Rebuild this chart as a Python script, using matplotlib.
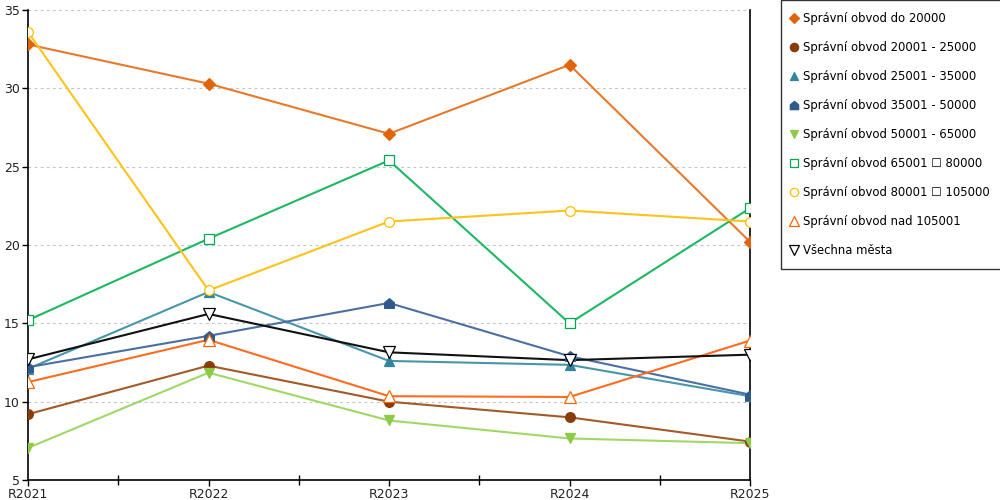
import matplotlib
matplotlib.use("Agg")
import matplotlib.pyplot as plt
from matplotlib.lines import Line2D
from matplotlib.path import Path
from matplotlib.ticker import MultipleLocator

years = ["R2021", "R2022", "R2023", "R2024", "R2025"]

names = [
    "Správní obvod do 20000",
    "Správní obvod 20001 - 25000",
    "Správní obvod 25001 - 35000",
    "Správní obvod 35001 - 50000",
    "Správní obvod 50001 - 65000",
    "Správní obvod 65001 \u2610 80000",
    "Správní obvod 80001 \u2610 105000",
    "Správní obvod nad 105001",
    "Všechna města",
]

do_20000 = [32.8, 30.3, 27.1, 31.5, 20.2]
od_20001 = [9.2, 12.3, 10.0, 9.0, 7.45]
od_25001 = [12.1, 17.0, 12.6, 12.35, 10.35]
od_35001 = [12.2, 14.2, 16.3, 12.9, 10.45]
od_50001 = [7.05, 11.85, 8.8, 7.65, 7.35]
od_65001 = [15.2, 20.4, 25.4, 15.0, 22.35]
od_80001 = [33.6, 17.1, 21.5, 22.2, 21.5]
nad_105001 = [11.25, 13.95, 10.35, 10.3, 13.9]
vsechna = [12.7, 15.6, 13.15, 12.65, 13.0]

series = [do_20000, od_20001, od_25001, od_35001, od_50001,
          od_65001, od_80001, nad_105001, vsechna]

house = Path([(-1, -1), (1, -1), (1, 0.15), (0, 1), (-1, 0.15), (-1, -1)],
             [Path.MOVETO, Path.LINETO, Path.LINETO, Path.LINETO, Path.LINETO, Path.CLOSEPOLY])

# (line colour, marker colour, marker, filled, marker size)
styles = [
    ("#E8792A", "#E0650A", "D", True, 6),
    ("#A35A26", "#8A3C08", "o", True, 7),
    ("#4796AA", "#31859C", "^", True, 7),
    ("#4A70A3", "#2F5A8C", house, True, 7),
    ("#A0D865", "#8CCB48", "v", True, 7),
    ("#1CB862", "#00A850", "s", False, 7),
    ("#FFC21A", "#FFC000", "o", False, 7),
    ("#FF6B1F", "#FF6600", "^", False, 8),
    ("#111111", "#000000", "v", False, 8),
]

fig = plt.figure(figsize=(10, 5), dpi=100)
ax = fig.add_axes([0.028, 0.04, 0.722, 0.94])

x = list(range(len(years)))
handles = []
for vals, name, (lc, mc, mk, filled, ms) in zip(series, names, styles):
    ax.plot(x, vals, color=lc, lw=1.5, zorder=3)
    ax.plot(x, vals, ls="none", marker=mk, ms=ms,
            markerfacecolor=mc if filled else "white",
            markeredgecolor=mc, markeredgewidth=0.9, zorder=4)
    handles.append(Line2D([], [], ls="none", marker=mk, ms=ms - 1,
                          markerfacecolor=mc if filled else "white",
                          markeredgecolor=mc, markeredgewidth=0.9, label=name))

ax.set_xlim(0, 4)
ax.set_ylim(5, 35)
ax.set_xticks(x)
ax.set_xticklabels(years)
ax.xaxis.set_minor_locator(MultipleLocator(0.5))
ax.yaxis.set_major_locator(MultipleLocator(5))
ax.tick_params(axis="x", which="major", direction="out", length=4, width=1,
               labelsize=9, colors="black", labelcolor="#222222", pad=2)
ax.tick_params(axis="x", which="minor", direction="inout", length=7, width=1)
ax.tick_params(axis="y", direction="out", length=4, width=1,
               labelsize=9, labelcolor="#222222", pad=2)
ax.grid(axis="y", color="#C4C4C4", ls=(0, (2.5, 3)), lw=0.8)
ax.set_axisbelow(True)
ax.spines["top"].set_visible(False)
for s in ("left", "bottom", "right"):
    ax.spines[s].set_color("black")
    ax.spines[s].set_linewidth(1.2)

leg = fig.legend(handles=handles, loc="upper left",
                 bbox_to_anchor=(0.781, 1.0),
                 fontsize=8.4, frameon=True, fancybox=False, edgecolor="black",
                 handlelength=0.3, handletextpad=0.6, labelspacing=1.38,
                 borderpad=1.0, borderaxespad=0.0)
leg.get_frame().set_linewidth(1.0)

fig.savefig("out.png", dpi=100)
